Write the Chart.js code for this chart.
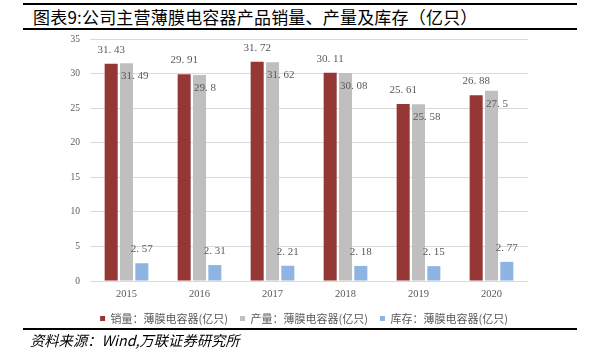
<!DOCTYPE html>
<html>
<head>
<meta charset="utf-8">
<script src="https://cdn.jsdelivr.net/npm/chart.js@4.4.0/dist/chart.umd.min.js"></script>
<style>
  body { margin: 0; width: 597px; height: 360px; background: #fff; position: relative; overflow: hidden; }
  .rule { position: absolute; left: 23px; width: 554px; height: 2px; background: #000; }
  #title { position: absolute; left: 33px; top: 6px; font: 17px "Noto Sans CJK SC"; letter-spacing: 0.2px; line-height: 22px; color: #000; white-space: nowrap; }
  #source { position: absolute; left: 30px; top: 331px; font: italic 14.3px "Noto Sans CJK SC"; line-height: 18px; color: #000; white-space: nowrap; }
  #wrap { position: absolute; left: 0; top: 0; width: 597px; height: 360px; }
</style>
</head>
<body>
<div class="rule" style="top:3px"></div>
<div id="title">图表9:公司主营薄膜电容器产品销量、产量及库存（亿只）</div>
<div class="rule" style="top:28px"></div>
<div id="wrap"><canvas id="capChart"></canvas></div>
<div class="rule" style="top:328px"></div>
<div id="source">资料来源：Wind,万联证券研究所</div>

<script>
const years = ["2015", "2016", "2017", "2018", "2019", "2020"];
const sales = [31.43, 29.91, 31.72, 30.11, 25.61, 26.88];
const output = [31.49, 29.8, 31.62, 30.08, 25.58, 27.5];
const stock = [2.57, 2.31, 2.21, 2.18, 2.15, 2.77];
const seriesNames = ["销量：薄膜电容器(亿只)", "产量：薄膜电容器(亿只)", "库存：薄膜电容器(亿只)"];
const colors = ["#953735", "#BFBFBF", "#8EB4E3"];
const yMax = 35;
const yStep = 5;

// value labels, placed roughly like the Excel original
const barLabels = {
  id: "barLabels",
  afterDatasetsDraw(chart) {
    const ctx = chart.ctx;
    ctx.save();
    ctx.font = '11px "Liberation Serif"';
    ctx.fillStyle = "#595959";
    ctx.textBaseline = "middle";
    chart.data.datasets.forEach((ds, i) => {
      chart.getDatasetMeta(i).data.forEach((bar, j) => {
        const txt = String(ds.data[j]).replace(".", ". ");
        if (i === 1) {
          ctx.textAlign = "left";
          ctx.fillText(txt, bar.x - bar.width / 2 + 1, bar.y + 13);
        } else {
          ctx.textAlign = "center";
          ctx.fillText(txt, bar.x, bar.y - 14);
        }
      });
    });
    ctx.restore();
  },
};

// nudge the legend so it sits under the plot like the original
const legendShift = {
  id: "legendShift",
  afterLayout(chart) {
    chart.legend.left += 6;
    chart.legend.right += 6;
  },
};

const ctx = document.getElementById("capChart").getContext("2d");
const capChart = new Chart(ctx, {
  type: "bar",
  data: {
    labels: years,
    datasets: [
      { label: seriesNames[0], data: sales, backgroundColor: colors[0] },
      { label: seriesNames[1], data: output, backgroundColor: colors[1] },
      { label: seriesNames[2], data: stock, backgroundColor: colors[2] },
    ],
  },
  options: {
    responsive: true,
    maintainAspectRatio: false,
    animation: false,
    categoryPercentage: 0.63,
    barPercentage: 0.85,
    layout: { padding: { left: 68, right: 69, top: 39, bottom: 26 } },
    scales: {
      x: {
        grid: { display: false, drawTicks: false },
        border: { display: false },
        ticks: { color: "#595959", font: { family: "Liberation Serif", size: 10.5 }, padding: 7 },
        afterFit: (scale) => { scale.height = 20; },
      },
      y: {
        min: 0,
        max: yMax,
        grid: { color: "#D9D9D9", lineWidth: 1, drawTicks: false },
        border: { display: false },
        ticks: { stepSize: yStep, color: "#595959", font: { family: "Liberation Serif", size: 9.5 }, padding: 10 },
        afterFit: (scale) => { scale.width = 22; },
      },
    },
    plugins: {
      legend: {
        position: "bottom",
        labels: {
          boxWidth: 5,
          boxHeight: 5,
          padding: 12,
          color: "#595959",
          font: { family: "Noto Sans CJK SC", size: 11 },
        },
      },
      tooltip: { enabled: false },
    },
  },
  plugins: [barLabels, legendShift],
});
</script>
</body>
</html>
